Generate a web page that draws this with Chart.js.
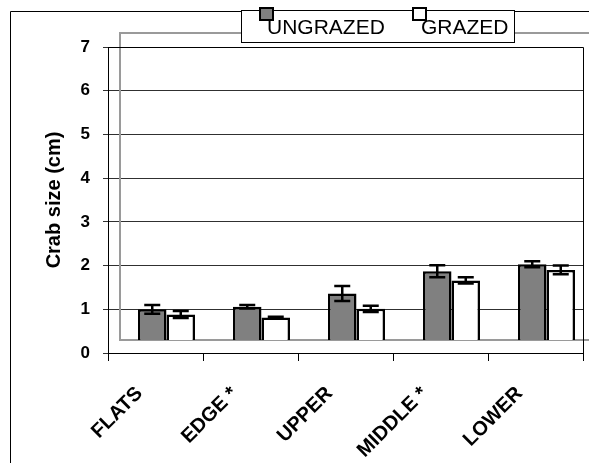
<!DOCTYPE html>
<html>
<head>
<meta charset="utf-8">
<script src="https://cdn.jsdelivr.net/npm/chart.js@4.4.0/dist/chart.umd.min.js"></script>
<style>
  html, body { margin: 0; padding: 0; background: #fff; }
  #wrap { width: 589px; height: 463px; position: relative; }
</style>
</head>
<body>
<div id="wrap"><canvas id="crabChart"></canvas></div>
<script>
// values
const habitats = ['FLATS', 'EDGE *', 'UPPER', 'MIDDLE *', 'LOWER'];
const ungrazed = [1.00, 1.06, 1.36, 1.87, 2.03];
const ungrazedErr = [0.10, 0.04, 0.17, 0.14, 0.07];
const grazed = [0.88, 0.81, 1.01, 1.66, 1.90];
const grazedErr = [0.08, 0.02, 0.07, 0.07, 0.10];
const yTicks = [0, 1, 2, 3, 4, 5, 6, 7];

const FONT = '"Liberation Sans", Arial, sans-serif';
const SHIFT_X = 11;   // back wall offset of the old excel plot
const errors = [ungrazedErr, grazedErr];

const framePlugin = {
  id: 'frame',
  beforeDraw(chart) {
    const ctx = chart.ctx;
    ctx.save();
    ctx.fillStyle = '#fff';
    ctx.fillRect(0, 0, chart.width, chart.height);
    ctx.strokeStyle = '#000';
    ctx.lineWidth = 1;
    ctx.beginPath();
    ctx.moveTo(10.5, chart.height);
    ctx.lineTo(10.5, 11.5);
    ctx.lineTo(chart.width, 11.5);
    ctx.stroke();
    ctx.restore();
  },
  beforeDatasetsDraw(chart) {
    const ctx = chart.ctx;
    const a = chart.chartArea;
    // grey back wall
    ctx.save();
    ctx.strokeStyle = '#9a9a9a';
    ctx.lineWidth = 2;
    ctx.strokeRect(a.left + SHIFT_X + 1, a.top - 14, chart.width, a.bottom - a.top + 1);
    ctx.restore();
    ctx.save();
    ctx.translate(SHIFT_X, 0);
  },
  afterDatasetsDraw(chart) {
    const ctx = chart.ctx;
    const y = chart.scales.y;
    ctx.strokeStyle = '#000';
    ctx.lineWidth = 2.5;
    chart.data.datasets.forEach((ds, di) => {
      chart.getDatasetMeta(di).data.forEach((bar, i) => {
        const v = ds.data[i], e = errors[di][i];
        const yt = y.getPixelForValue(v + e), yb = y.getPixelForValue(v - e);
        ctx.beginPath();
        ctx.moveTo(bar.x, yt); ctx.lineTo(bar.x, yb);
        ctx.moveTo(bar.x - 8, yt); ctx.lineTo(bar.x + 8, yt);
        ctx.moveTo(bar.x - 8, yb); ctx.lineTo(bar.x + 8, yb);
        ctx.stroke();
      });
    });
    ctx.restore();
    const a = chart.chartArea;
    ctx.save();
    ctx.strokeStyle = '#000';
    ctx.lineWidth = 1;
    ctx.beginPath();
    ctx.moveTo(a.left, a.top + 0.5);
    ctx.lineTo(a.right + 0.5, a.top + 0.5);
    ctx.lineTo(a.right + 0.5, a.bottom);
    ctx.stroke();
    ctx.restore();
  },
  afterDraw(chart) {
    // legend box sitting on the top edge
    const ctx = chart.ctx;
    ctx.save();
    ctx.fillStyle = '#fff';
    ctx.fillRect(241, 10, 273, 32);
    ctx.strokeStyle = '#000';
    ctx.lineWidth = 1;
    ctx.strokeRect(241.5, 10.5, 273, 32);
    const items = [[260, 267], [413, 421]];
    ctx.font = '21px ' + FONT;
    ctx.textBaseline = 'alphabetic';
    chart.data.datasets.forEach((ds, i) => {
      const [mx, tx] = items[i];
      ctx.fillStyle = '#000';
      ctx.fillText(ds.label, tx, 34);
      ctx.fillStyle = ds.backgroundColor;
      ctx.fillRect(mx, 8, 13, 12);
      ctx.lineWidth = 2;
      ctx.strokeStyle = '#000';
      ctx.strokeRect(mx, 8, 13, 12);
    });
    ctx.restore();
  }
};

new Chart(document.getElementById('crabChart'), {
  type: 'bar',
  data: {
    labels: habitats,
    datasets: [
      { label: 'UNGRAZED', data: ungrazed, backgroundColor: '#808080', borderColor: '#000', borderWidth: 2.5, base: 0.3 },
      { label: 'GRAZED', data: grazed, backgroundColor: '#ffffff', borderColor: '#000', borderWidth: 2.5, base: 0.3 }
    ]
  },
  options: {
    responsive: true,
    maintainAspectRatio: false,
    animation: false,
    categoryPercentage: 0.6,
    barPercentage: 1.0,
    layout: { padding: { top: 47, right: 6, left: 0, bottom: 0 } },
    plugins: {
      legend: { display: false },
      tooltip: { enabled: false }
    },
    scales: {
      x: {
        grid: { drawOnChartArea: false, drawTicks: true, tickLength: 8, color: '#000', offset: true },
        border: { display: true, color: '#000', width: 1 },
        ticks: {
          color: '#000', font: { family: FONT, size: 20, weight: 'bold' },
          maxRotation: 45, minRotation: 45, padding: 21, labelOffset: -16, autoSkip: false
        },
        afterFit(scale) { scale.height = 110; }
      },
      y: {
        min: 0, max: 7,
        afterBuildTicks(scale) { scale.ticks = yTicks.map(v => ({ value: v })); },
        grid: { color: '#303030', tickLength: 5, lineWidth: 1 },
        border: { display: true, color: '#000', width: 1 },
        ticks: { color: '#000', font: { family: FONT, size: 17, weight: 'bold' }, padding: 13 },
        title: {
          display: true, text: 'Crab size (cm)', color: '#000',
          font: { family: FONT, size: 20, weight: 'bold' }, padding: { top: 42, bottom: 0 }
        },
        afterFit(scale) { scale.width = 108; }
      }
    }
  },
  plugins: [framePlugin]
});
</script>
</body>
</html>
